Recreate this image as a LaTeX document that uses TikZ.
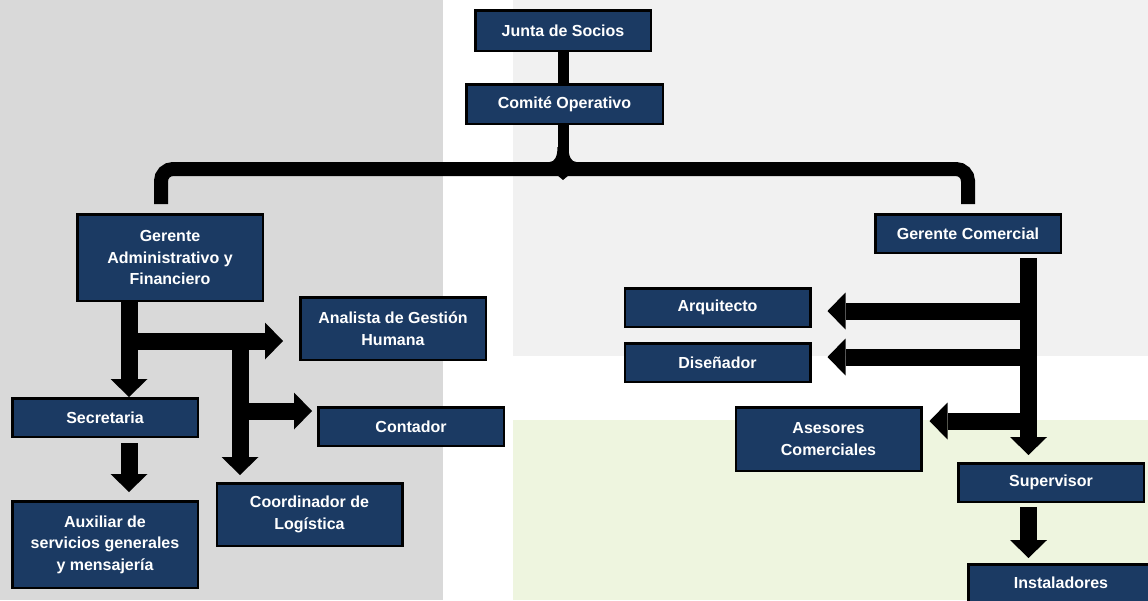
\documentclass[tikz,border=0pt]{standalone}
\usepackage{fontspec}
\setmainfont{Liberation Sans}
\usepackage{tikz}
\usetikzlibrary{arrows.meta}
\definecolor{boxnavy}{HTML}{1B3A63}
\definecolor{panelgray}{HTML}{D9D9D9}
\definecolor{panellight}{HTML}{F1F1F1}
\definecolor{panelgreen}{HTML}{EEF5DF}
\tikzset{
  org box/.style={
    draw=black, line width=2.5pt,   % dark frame
    fill=boxnavy, text=white,
    font=\bfseries\fontsize{16}{21.5}\selectfont, align=center,
    minimum width=185.5pt, minimum height=38.5pt, inner sep=0pt
  },
  block arrow/.style={
    -{Triangle[width=37pt, length=18pt, line width=0pt]},
    line width=17pt
  },
  brace line/.style={line width=14pt, rounded corners=12pt}
}

\begin{document}
\begin{tikzpicture}[x=1pt, y=-1pt]
    % Background panels
    \useasboundingbox (0,0) rectangle (1148,600);
    \clip (0,0) rectangle (1148,600);
    \fill[white] (0,0) rectangle (1148,600);
    \fill[panelgray] (0,0) rectangle (443,600);
    \fill[panellight] (513,0) rectangle (1148,356);
    \fill[panelgreen] (513,420) rectangle (1148,600);

    % Top
    \node[org box, minimum width=175.5pt, minimum height=40.5pt] (js) at (563,30.5) {Junta de Socios};
    \node[org box, minimum width=196.5pt, minimum height=39.5pt] (cop) at (564.5,104) {Comité Operativo};

    % Left branch
    \node[org box, minimum height=86.5pt] (ga) at (170,257.5) {Gerente\\Administrativo y\\Financiero};
    \node[org box, minimum height=62.5pt] (an) at (393,328.5) {Analista de Gestión\\Humana};
    \node[org box] (sec) at (105,417.5) {Secretaria};
    \node[org box] (con) at (411,426.5) {Contador};
    \node[org box, minimum height=62.5pt] (coo) at (309.5,514.5) {Coordinador de\\Logística};
    \node[org box, minimum height=86.5pt] (aux) at (105,544.5) {Auxiliar de\\servicios generales\\y mensajería};

    % Right branch
    \node[org box] (gc) at (968,233.5) {Gerente Comercial};
    \node[org box] (arq) at (717.5,307.5) {Arquitecto};
    \node[org box] (dis) at (717.5,362.5) {Diseñador};
    \node[org box, minimum height=63.5pt] (ase) at (828.5,439) {Asesores\\Comerciales};
    \node[org box] (sup) at (1051,482.5) {Supervisor};
    \node[org box, minimum height=37.5pt] (ins) at (1061,583) {Instaladores};

    % Brace under the committee
    \coordinate (bj) at (563,169);
    \coordinate (bl) at (161,204);
    \draw[line width=11pt] (js.south) -- (js.south |- cop.north);
    \draw[line width=11pt] (cop.south -| bj) -- ([yshift=-4pt]bj);
    \draw[brace line] (bl) |- (bj) -| ([yshift=9pt]gc.north);
    \fill (bj) ++(-5.5,-22) .. controls ++(0,10) and ++(5,0) .. ++(-8,15)
      -- ++(27,0) .. controls ++(-5,0) and ++(0,10) .. ++(-8,-15) -- cycle;
    \fill (bj) ++(-6,6) -- ++(6,5) -- ++(6,-5) -- cycle;

    % Left arrows
    \coordinate (lj) at (129,341);
    \coordinate (lk) at (240,341);
    \coordinate (lc) at (240,411);
    \draw[block arrow] (ga.south -| lj) -- (lj |- sec.north);
    \draw[block arrow, shorten >=16pt] (lj) -- (lj -| an.west);
    \draw[block arrow, shorten >=7pt] (lk) -- (lk |- coo.north);
    \draw[block arrow, shorten >=5pt] (lc) -- (lc -| con.west);
    \draw[block arrow, shorten <=5pt, shorten >=8pt] (sec.south -| lj) -- (lj |- aux.north);

    % Right arrows
    \coordinate (rj) at (1028.5,311);
    \coordinate (rd) at (1028.5,357);
    \coordinate (ra) at (1028.5,421);
    \draw[block arrow, shorten <=4pt, shorten >=7pt] (gc.south -| rj) -- (rj |- sup.north);
    \draw[block arrow, shorten >=16pt] (rj) -- (rj -| arq.east);
    \draw[block arrow, shorten >=16pt] (rd) -- (rd -| dis.east);
    \draw[block arrow, shorten >=7pt] (ra) -- (ra -| ase.east);
    \draw[block arrow, shorten <=4pt, shorten >=5pt] (sup.south -| rj) -- (rj |- ins.north);
\end{tikzpicture}
\end{document}
